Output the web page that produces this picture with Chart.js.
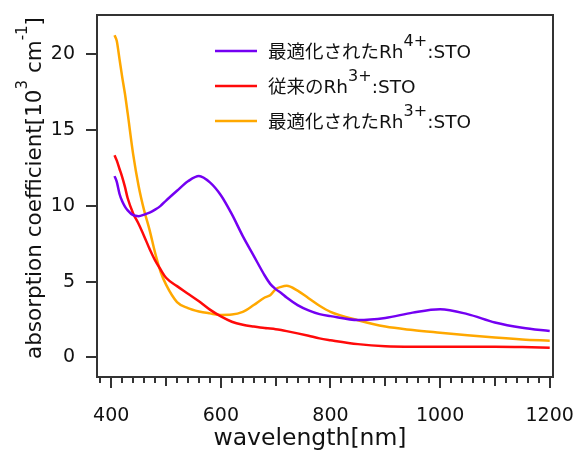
<!DOCTYPE html>
<html>
<head>
<meta charset="utf-8">
<script src="https://cdn.jsdelivr.net/npm/chart.js@4.4.1/dist/chart.umd.min.js"></script>
<style>
html,body{margin:0;padding:0;background:#fff}
</style>
</head>
<body>
<canvas id="chart" width="581" height="450"></canvas>
<script>
// data (nm / 10^3 cm^-1)
const wavelength = [406,410,415,420,425,430,440,450,460,470,480,490,500,520,540,560,580,600,620,640,660,680,690,700,710,720,740,760,780,800,850,900,950,1000,1050,1100,1150,1200];
const rh4Optimized = [11.96,11.6,10.8,10.3,9.95,9.7,9.38,9.32,9.42,9.55,9.75,10.0,10.35,11.0,11.62,11.97,11.55,10.7,9.45,8.0,6.7,5.4,4.85,4.5,4.25,3.95,3.45,3.1,2.85,2.72,2.46,2.6,2.95,3.17,2.85,2.3,1.95,1.73];
const rh3Conventional = [13.34,13.0,12.45,11.9,11.25,10.5,9.5,8.8,8.0,7.15,6.4,5.8,5.25,4.7,4.2,3.7,3.15,2.7,2.35,2.15,2.03,1.93,1.9,1.86,1.8,1.73,1.58,1.42,1.25,1.13,0.87,0.73,0.7,0.7,0.7,0.7,0.68,0.63];
const rh3Optimized = [21.26,20.9,19.7,18.5,17.4,16.1,13.4,11.3,9.7,8.4,6.9,5.65,4.8,3.65,3.25,3.03,2.9,2.8,2.82,3.0,3.45,3.95,4.1,4.5,4.65,4.72,4.4,3.9,3.4,3.0,2.45,2.03,1.8,1.62,1.45,1.3,1.18,1.1];

const xTickLabels = [400,600,800,1000,1200];
const yTickLabels = [0,5,10,15,20];

// label pieces: even index = normal text, odd index = superscript
const seriesNames = [
  ["最適化されたRh","4+",":STO"],
  ["従来のRh","3+",":STO"],
  ["最適化されたRh","3+",":STO"]
];
const seriesColors = ["#7400F2","#FF0A0A","#FFA800"];
const xTitle = ["wavelength[nm]"];
const yTitle = ["absorption coefficient[10","3"," cm","-1","]"];

const FONT = '"DejaVu Sans", "Noto Sans CJK JP", sans-serif';

function toPoints(vals){
  return wavelength.map((w,i)=>({x:w, y:vals[i]}));
}

// draws text with superscripts
function drawRich(ctx, parts, x, y, size, supSize, rise, centered){
  let widths = parts.map((p,i)=>{
    ctx.font = (i%2 ? supSize : size) + 'px ' + FONT;
    return ctx.measureText(p).width;
  });
  let total = widths.reduce((a,b)=>a+b,0);
  let cx = centered ? x - total/2 : x;
  parts.forEach((p,i)=>{
    ctx.font = (i%2 ? supSize : size) + 'px ' + FONT;
    ctx.fillText(p, cx, i%2 ? y-rise : y);
    cx += widths[i];
  });
}

const decor = {
  id:'decor',
  afterDraw(chart){
    const ctx = chart.ctx, a = chart.chartArea;
    const xs = chart.scales.x, ys = chart.scales.y;
    ctx.save();
    ctx.strokeStyle = '#333';
    ctx.lineWidth = 2;
    ctx.strokeRect(a.left, a.top, a.right-a.left, a.bottom-a.top);
    ctx.beginPath();
    xs.ticks.forEach(t=>{
      const px = Math.round(xs.getPixelForValue(t.value));
      const len = t.value%200===0 ? 11 : (t.value%100===0 ? 9 : 6);
      ctx.moveTo(px, a.bottom); ctx.lineTo(px, a.bottom+len);
    });
    ys.ticks.forEach(t=>{
      const py = Math.round(ys.getPixelForValue(t.value));
      ctx.moveTo(a.left-11, py); ctx.lineTo(a.left, py);
    });
    ctx.stroke();

    ctx.fillStyle = '#111';
    ctx.textBaseline = 'alphabetic';
    ctx.textAlign = 'left';
    // x title
    drawRich(ctx, xTitle, 310, 445, 23.5, 16, 0, true);
    // y title
    ctx.save();
    ctx.translate(41, 188);
    ctx.rotate(-Math.PI/2);
    drawRich(ctx, yTitle, 0, 0, 21.5, 15, 14, true);
    ctx.restore();

    // legend
    seriesNames.forEach((parts,i)=>{
      const ly = 51 + i*35;
      ctx.strokeStyle = seriesColors[i];
      ctx.lineWidth = 2.5;
      ctx.beginPath(); ctx.moveTo(215, ly); ctx.lineTo(257, ly); ctx.stroke();
      ctx.fillStyle = '#111';
      drawRich(ctx, parts, 268, ly+7, 18.5, 16, 12, false);
    });
    ctx.restore();
  }
};

const datasets = [rh4Optimized, rh3Conventional, rh3Optimized].map((vals,i)=>({
  label: seriesNames[i].join(''),
  data: toPoints(vals),
  borderColor: seriesColors[i],
  borderWidth: 2.5,
  pointRadius: 0,
  fill: false,
  cubicInterpolationMode: 'monotone'
}));

new Chart(document.getElementById('chart'), {
  type: 'line',
  data: { datasets: datasets },
  options: {
    responsive: false,
    animation: false,
    devicePixelRatio: 1,
    layout: { padding: { top: 15, right: 28, left: 0, bottom: 0 } },
    plugins: { legend: { display: false }, tooltip: { enabled: false } },
    scales: {
      x: {
        type: 'linear',
        min: 374, max: 1206,
        afterFit: s => { s.height = 73; s.paddingLeft = 0; s.paddingRight = 0; },
        grid: { display: false },
        border: { display: false },
        ticks: {
          stepSize: 20,
          includeBounds: false,
          autoSkip: false,
          maxRotation: 0,
          padding: 20,
          color: '#111',
          font: { family: FONT, size: 19 },
          callback: v => xTickLabels.includes(v) ? String(v) : ''
        }
      },
      y: {
        min: -1.3, max: 22.6,
        afterFit: s => { s.width = 97; s.paddingTop = 0; s.paddingBottom = 0; },
        grid: { display: false },
        border: { display: false },
        ticks: {
          stepSize: 5,
          includeBounds: false,
          padding: 14,
          color: '#111',
          font: { family: FONT, size: 19 },
          callback: v => yTickLabels.includes(v) ? String(v) : ''
        }
      }
    }
  },
  plugins: [decor]
});
</script>
</body>
</html>
